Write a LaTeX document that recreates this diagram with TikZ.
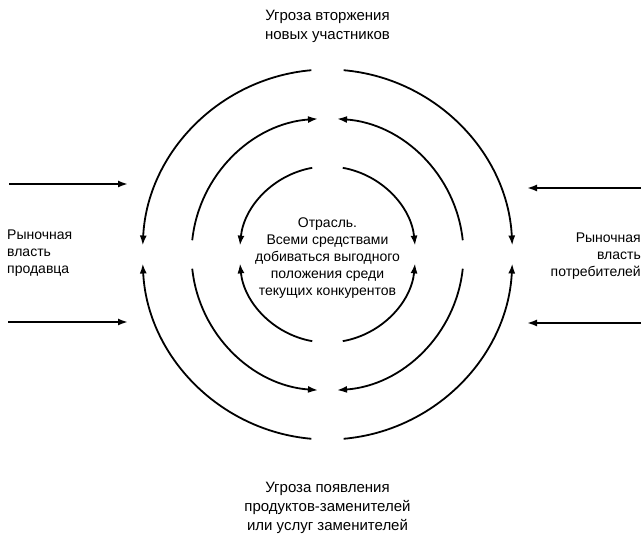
\documentclass[tikz,border=0pt]{standalone}
\usepackage{fontspec}
\setmainfont{Liberation Sans}
\usetikzlibrary{arrows.meta}
\begin{document}
\begin{tikzpicture}[x = 1pt, y = 1pt,
        ring/.style = {line width = 1.8pt, -{Latex[length = 10pt, width = 7pt]}},
        push/.style = {line width = 1.8pt, -{Latex[length = 10pt, width = 7pt]}},
        label/.style = {font = \fontsize{15}{19}\selectfont, inner sep = 0pt}]
    \useasboundingbox (0, 0) rectangle (641, 535);
    \coordinate (c) at (327.5, 280.5);
    % outer ring
    \draw[ring] ([shift = {(95:185)}] c) arc[start angle = 95, end angle = 177.2, radius = 185];
    \draw[ring] ([shift = {(265:185)}] c) arc[start angle = 265, end angle = 182.8, radius = 185];
    \draw[ring] ([shift = {(85:185)}] c) arc[start angle = 85, end angle = 2.8, radius = 185];
    \draw[ring] ([shift = {(-85:185)}] c) arc[start angle = -85, end angle = -2.8, radius = 185];
        % middle ring
        \draw[ring] ([shift = {(174:136)}] c) arc[start angle = 174, end angle = 94, radius = 136];
        \draw[ring] ([shift = {(6:136)}] c) arc[start angle = 6, end angle = 86, radius = 136];
        \draw[ring] ([shift = {(186:136)}] c) arc[start angle = 186, end angle = 266, radius = 136];
        \draw[ring] ([shift = {(-6:136)}] c) arc[start angle = -6, end angle = -86, radius = 136];
            % inner ring
            \draw[ring] ([shift = {(100:88)}] c) arc[start angle = 100, end angle = 174.2, radius = 88];
            \draw[ring] ([shift = {(260:88)}] c) arc[start angle = 260, end angle = 185.8, radius = 88];
            \draw[ring] ([shift = {(80:88)}] c) arc[start angle = 80, end angle = 5.8, radius = 88];
            \draw[ring] ([shift = {(280:88)}] c) arc[start angle = 280, end angle = 354.2, radius = 88];
    % texts
    \node[label, align = center] (entry) at (327.5, 509) {Угроза вторжения\\новых участников};
    \node[label, align = center] (subst) at (327.5, 27) {Угроза появления\\продуктов-заменителей\\или услуг заменителей};
    \node[label, align = left, anchor = west, font = \fontsize{14}{17}\selectfont] (seller) at (7, 282) {Рыночная\\власть\\продавца};
    \node[label, align = right, anchor = east, font = \fontsize{14}{17}\selectfont] (buyer) at (641, 279) {Рыночная\\власть\\потребителей};
    \node[label, align = center, font = \fontsize{14}{17}\selectfont] (rivalry) at (327.5, 277) {Отрасль.\\Всеми средствами\\добиваться выгодного\\положения среди\\текущих конкурентов};
    % side pressure
    \coordinate (s1) at (9, 351);
    \coordinate (s2) at (128, 351);
    \coordinate (s3) at (8, 213);
    \coordinate (s4) at (128, 213);
    \coordinate (b1) at (641, 347);
    \coordinate (b2) at (527, 347);
    \coordinate (b3) at (641, 212);
    \coordinate (b4) at (527, 212);
    \draw[push] (s1) -- (s2);
    \draw[push] (s3) -- (s4);
    \draw[push] (b1) -- (b2);
    \draw[push] (b3) -- (b4);
\end{tikzpicture}
\end{document}
